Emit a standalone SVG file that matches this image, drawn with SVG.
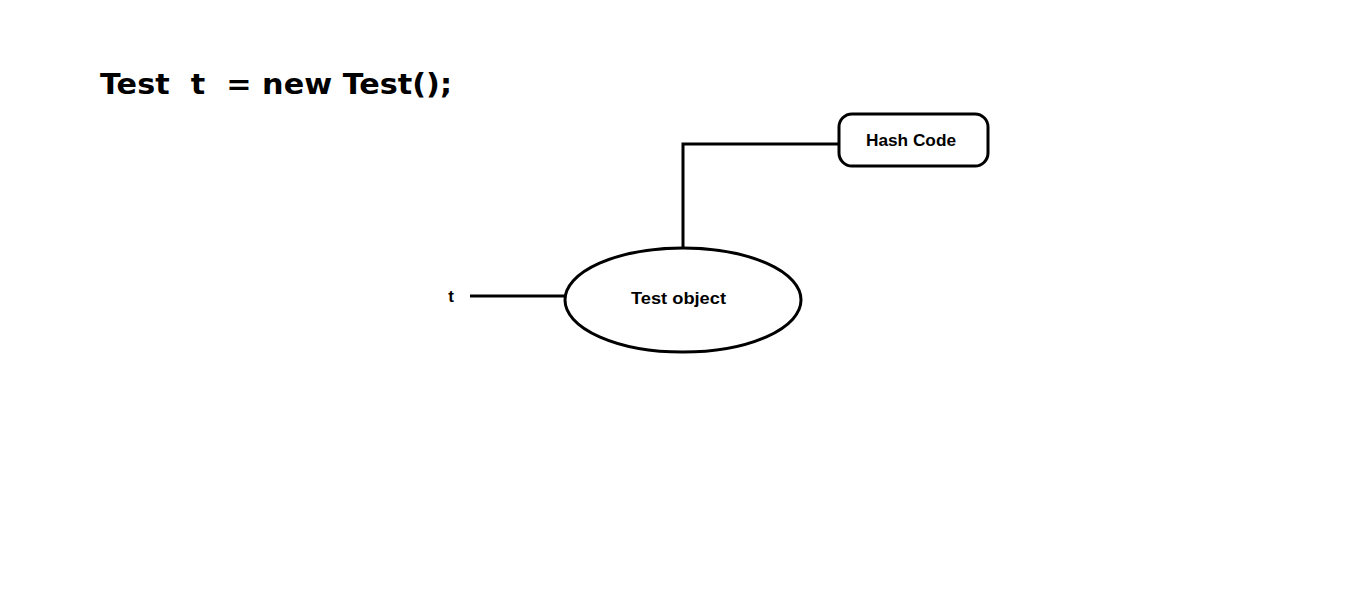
<svg xmlns="http://www.w3.org/2000/svg" width="1360" height="613" viewBox="0 0 1360 613">
<style>
.shape{fill:#fff;stroke:#000;stroke-width:3}
.conn{fill:none;stroke:#000;stroke-width:3}
.lbl{font-family:"Liberation Sans",Arial,sans-serif;font-weight:bold;font-size:17px;fill:#000}
.title{font-family:"DejaVu Sans",Verdana,sans-serif;font-weight:bold;font-size:28px;fill:#000}
</style>
<rect width="1360" height="613" fill="#fff"/>
<text class="title" x="100" y="94" textLength="352" lengthAdjust="spacingAndGlyphs" xml:space="preserve">Test  t  = new Test();</text>
<g id="connectors">
<polyline class="conn" points="683,248 683,144 839,144"/>
<line class="conn" x1="470" y1="296" x2="566" y2="296"/>
</g>
<g id="test-object">
<ellipse class="shape" cx="683" cy="300" rx="118" ry="52"/>
<text class="lbl" x="678.5" y="304" text-anchor="middle" textLength="95" lengthAdjust="spacingAndGlyphs">Test object</text>
</g>
<g id="hash-code">
<rect class="shape" x="839" y="114" width="149" height="52" rx="13"/>
<text class="lbl" x="911" y="146" text-anchor="middle" textLength="90" lengthAdjust="spacingAndGlyphs">Hash Code</text>
</g>
<g id="t-label">
<text class="lbl" x="451" y="302" text-anchor="middle">t</text>
</g>
</svg>
